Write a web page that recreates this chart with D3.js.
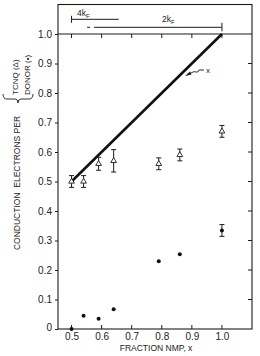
<!DOCTYPE html>
<html>
<head>
<meta charset="utf-8">
<script src="https://cdn.jsdelivr.net/npm/d3@7"></script>
<style>
  body { margin: 0; background: #fff; }
  svg text { font-family: "Liberation Sans", Arial, sans-serif; fill: #222; }
</style>
</head>
<body>
<div id="chart"></div>
<script>
// data
var fraction = [0.50, 0.54, 0.59, 0.64, 0.79, 0.86, 1.00];
var tcnq = [0.50, 0.50, 0.56, 0.57, 0.56, 0.59, 0.67];
var tcnqErr = [0.02, 0.02, 0.022, 0.038, 0.02, 0.02, 0.02];
var donor = [0.00, 0.045, 0.035, 0.067, 0.23, 0.253, 0.334];
var donorErr = [0, 0, 0, 0, 0, 0, 0.02];
var lineX = [0.5, 1.0];
var yTicks = [0, 0.1, 0.2, 0.3, 0.4, 0.5, 0.6, 0.7, 0.8, 0.9, 1.0];
var xTicks = [0.5, 0.6, 0.7, 0.8, 0.9, 1.0];
var kf4 = [0.5, 0.657];
var kf2 = [0.575, 1.0];

var W = 260, H = 356;
var padL = 58, padR = 252, padT = 4.5, padB = 329;

var svg = d3.select("#chart").append("svg")
    .attr("width", W)
    .attr("height", H);

var x = d3.scaleLinear().domain([0.455, 1.1]).range([padL, padR]);
var y = d3.scaleLinear().domain([0, 1.1]).range([padB, padT]);

var ink = "#1c1c1c";

// frame
svg.append("rect")
    .attr("x", padL).attr("y", padT)
    .attr("width", padR - padL).attr("height", padB - padT)
    .attr("fill", "none").attr("stroke", ink).attr("stroke-width", 1.1);

// line at 1.0
svg.append("line")
    .attr("x1", padL).attr("x2", padR)
    .attr("y1", y(1)).attr("y2", y(1))
    .attr("stroke", ink).attr("stroke-width", 1.1);

// left axis
var yAxis = d3.axisLeft(y).tickValues(yTicks).tickSize(3).tickPadding(3)
    .tickFormat(function(d) { return d === 0 ? "0" : d.toFixed(1); });
var gy = svg.append("g").attr("transform", "translate(" + padL + ",0)").call(yAxis);
gy.select(".domain").remove();
gy.selectAll("line").attr("stroke", ink);
gy.selectAll("text").attr("font-size", 10).style("font-family", "Liberation Sans, Arial, sans-serif").attr("fill", "#222");
gy.selectAll("text").filter(function(d) { return d === 0; }).attr("dy", "0.1em");

// right inner ticks
svg.append("g").selectAll("line")
    .data(yTicks.slice(1, 10))
    .enter().append("line")
    .attr("x1", padR - 4).attr("x2", padR)
    .attr("y1", function(d) { return y(d); })
    .attr("y2", function(d) { return y(d); })
    .attr("stroke", ink);

// bottom axis
var xAxis = d3.axisBottom(x).tickValues(xTicks).tickSize(0).tickPadding(4)
    .tickFormat(function(d) { return d.toFixed(1); });
var gx = svg.append("g").attr("transform", "translate(0," + padB + ")").call(xAxis);
gx.select(".domain").remove();
gx.selectAll("text").attr("font-size", 10).style("font-family", "Liberation Sans, Arial, sans-serif").attr("fill", "#222");

// bottom inner ticks and ticks under 1.0 line
svg.append("g").selectAll("line")
    .data(xTicks)
    .enter().append("line")
    .attr("x1", function(d) { return x(d); })
    .attr("x2", function(d) { return x(d); })
    .attr("y1", padB - 4).attr("y2", padB)
    .attr("stroke", ink);
svg.append("g").selectAll("line")
    .data(xTicks)
    .enter().append("line")
    .attr("x1", function(d) { return x(d); })
    .attr("x2", function(d) { return x(d); })
    .attr("y1", y(1)).attr("y2", y(1) + 4)
    .attr("stroke", ink);

svg.append("text")
    .attr("x", 156).attr("y", 351)
    .attr("text-anchor", "middle")
    .attr("font-size", 8.5)
    .text("FRACTION NMP, x");

// y label
var yl = svg.append("g").attr("transform", "translate(20,183) rotate(-90)");
yl.append("text")
    .attr("x", 0).attr("y", 0)
    .attr("text-anchor", "middle")
    .attr("font-size", 8.5)
    .attr("xml:space", "preserve")
    .text("CONDUCTION  ELECTRONS PER");
var tl = svg.append("g").attr("transform", "rotate(-90)");
tl.append("text")
    .attr("x", -95).attr("y", 18)
    .attr("font-size", 8)
    .text("TCNQ (\u0394)");
tl.append("text")
    .attr("x", -95).attr("y", 30)
    .attr("font-size", 8)
    .text("DONOR (\u2022)");
// brace below them
svg.append("path")
    .attr("d", "M3,94 Q3,99 7,99 L15,99 Q18,99 18,103 Q18,99 21,99 L29,99 Q33,99 33,94")
    .attr("fill", "none").attr("stroke", ink).attr("stroke-width", 0.9);

// x = line
svg.append("line")
    .attr("x1", x(lineX[0])).attr("y1", y(lineX[0]))
    .attr("x2", x(lineX[1])).attr("y2", y(lineX[1]))
    .attr("stroke", "#111").attr("stroke-width", 2.6);

// squiggle arrow label
svg.append("path")
    .attr("d", "M187,75 L192,72.5 Q194,71 196,72 Q198,73 199,70 L204,70")
    .attr("fill", "none").attr("stroke", ink).attr("stroke-width", 0.9);
svg.append("path")
    .attr("d", "M185,76 L190,71.5 L191.5,74.5 Z")
    .attr("fill", ink);
svg.append("text")
    .attr("x", 206).attr("y", 73)
    .attr("font-size", 8)
    .text("x");

// kF markers
var y4 = 19.3, y2 = 27.3;
svg.append("line")
    .attr("x1", x(kf4[0])).attr("x2", x(kf4[1]))
    .attr("y1", y4).attr("y2", y4)
    .attr("stroke", ink);
svg.append("line")
    .attr("x1", x(kf4[0])).attr("x2", x(kf4[0]))
    .attr("y1", y4 - 3.5).attr("y2", y4 + 3.5)
    .attr("stroke", ink);
var t4 = svg.append("text").attr("x", 77).attr("y", 16).attr("font-size", 8.5);
t4.append("tspan").text("4k");
t4.append("tspan").attr("font-size", 6).attr("dy", 1.5).text("F");

svg.append("line")
    .attr("x1", x(kf2[0]) - 7).attr("x2", x(kf2[0]) - 4)
    .attr("y1", y2).attr("y2", y2)
    .attr("stroke", ink);
svg.append("line")
    .attr("x1", x(kf2[0])).attr("x2", x(kf2[1]))
    .attr("y1", y2).attr("y2", y2)
    .attr("stroke", ink);
svg.append("line")
    .attr("x1", x(kf2[1])).attr("x2", x(kf2[1]))
    .attr("y1", y2 - 4.5).attr("y2", y2 + 4)
    .attr("stroke", ink);
var t2 = svg.append("text").attr("x", 162).attr("y", 22).attr("font-size", 8.5);
t2.append("tspan").text("2k");
t2.append("tspan").attr("font-size", 6).attr("dy", 1.5).text("F");

// error bars
var pts = fraction.map(function(f, i) {
    return { f: f, t: tcnq[i], te: tcnqErr[i], d: donor[i], de: donorErr[i] };
});

function errBars(sel, key, ekey) {
    var g = sel.selectAll(null)
        .data(pts.filter(function(p) { return p[ekey] > 0; }))
        .enter().append("g");
    g.append("line")
        .attr("x1", function(p) { return x(p.f); })
        .attr("x2", function(p) { return x(p.f); })
        .attr("y1", function(p) { return y(p[key] + p[ekey]); })
        .attr("y2", function(p) { return y(p[key] - p[ekey]); })
        .attr("stroke", ink);
    [1, -1].forEach(function(s) {
        g.append("line")
            .attr("x1", function(p) { return x(p.f) - 2.5; })
            .attr("x2", function(p) { return x(p.f) + 2.5; })
            .attr("y1", function(p) { return y(p[key] + s * p[ekey]); })
            .attr("y2", function(p) { return y(p[key] + s * p[ekey]); })
            .attr("stroke", ink);
    });
}
errBars(svg, "t", "te");
errBars(svg, "d", "de");

// triangles
svg.selectAll(".tri")
    .data(pts)
    .enter().append("path")
    .attr("class", "tri")
    .attr("d", d3.symbol().type(d3.symbolTriangle).size(14))
    .attr("transform", function(p) { return "translate(" + x(p.f) + "," + y(p.t) + ")"; })
    .attr("fill", "#fff").attr("stroke", ink).attr("stroke-width", 0.9);

// dots
svg.selectAll(".dot")
    .data(pts)
    .enter().append("circle")
    .attr("class", "dot")
    .attr("cx", function(p) { return x(p.f); })
    .attr("cy", function(p) { return y(p.d); })
    .attr("r", 2)
    .attr("fill", "#111");
</script>
</body>
</html>
